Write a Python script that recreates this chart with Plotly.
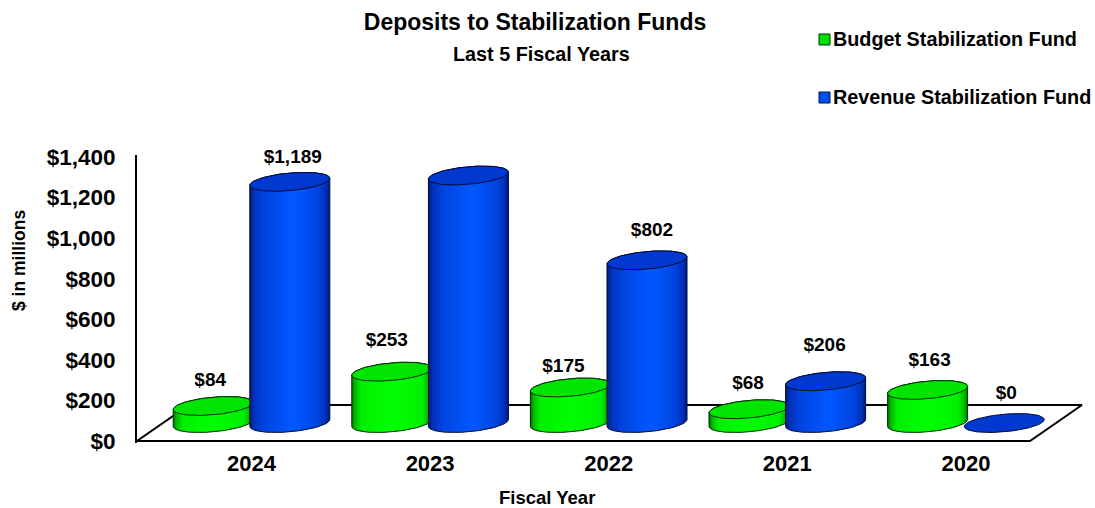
import numpy as np
import plotly.graph_objects as go

years = ["2024", "2023", "2022", "2021", "2020"]
budget = [84, 253, 175, 68, 163]
revenue = [1189, 1220, 802, 206, 0]
y_ticks = [0, 200, 400, 600, 800, 1000, 1200, 1400]
y_labels = ["$0", "$200", "$400", "$600", "$800", "$1,000", "$1,200", "$1,400"]

W, H = 1095, 508
L, R, T, B = 137, 1090, 155, 443      # plot area in pixels
FLOOR_R, FLOOR_B = 1030, 441          # front edge of the floor
PX_X = (FLOOR_R - L) / 5
PX_Y = (FLOOR_B - T) / 1410
XMIN = -(251.5 - L) / PX_X
XMAX = XMIN + (R - L) / PX_X
YMIN = -(B - FLOOR_B) / PX_Y
YMAX = 1410

# pixel offsets of the hand-placed value labels (dx, dy from each cap centre)
budget_dx = [-3, -5, -7, -1, 2]
budget_dy = [-25, -30, -20, -25, -29]
revenue_dx = [3, -3, 5, -1, 2]
revenue_dy = [-24, -28, -29, -35, -29]

SERIES_DX = 38.3   # half distance between the two cylinders of a group
RX, RY, SKEW = 40, 8.8, 3.5
BASE_PX = 18       # floor depth of cylinder base
DEPTH_X, DEPTH_Y = 52, 36

GREEN = dict(scale=[[0, "#007000"], [0.04, "#00b800"], [0.12, "#00f000"], [0.5, "#00ff00"],
                    [0.88, "#00f000"], [0.96, "#00b800"], [1, "#007000"]],
             cap="#00e400", edge="#002a00")
BLUE = dict(scale=[[0, "#001a78"], [0.05, "#0030b8"], [0.18, "#0044e0"], [0.55, "#0058ff"],
                   [0.85, "#0044e0"], [0.95, "#0030b8"], [1, "#001a78"]],
            cap="#0038d0", edge="#000c30")


def xy(cx, v, dx_px, dy_px):
    """pixel offsets relative to (category cx, value v) into data coordinates"""
    return cx + np.asarray(dx_px) / PX_X, v + BASE_PX / PX_Y - np.asarray(dy_px) / PX_Y


def arc(cx, v, t):
    return xy(cx, v, RX * np.cos(t), RY * np.sin(t) - SKEW * np.cos(t))


def cylinder(cx, v, st):
    out = []
    front = np.linspace(np.pi, 0, 50)          # lower half of the base
    back = np.linspace(0, -np.pi, 50)          # back half of the cap
    x0, y0 = arc(cx, 0, front)
    x1, y1 = arc(cx, v, back)
    if v > 0:
        out.append(go.Scatter(x=np.r_[x0, x1, x0[0]], y=np.r_[y0, y1, y0[0]], mode="lines",
                              fill="toself", fillgradient=dict(type="horizontal", colorscale=st["scale"]),
                              line=dict(color=st["edge"], width=1), showlegend=False,
                              hoverinfo="skip"))
    t = np.linspace(0, 2 * np.pi, 100)
    x2, y2 = arc(cx, v, t)
    out.append(go.Scatter(x=x2, y=y2, mode="lines", fill="toself", fillcolor=st["cap"],
                          line=dict(color=st["edge"], width=1), showlegend=False,
                          hoverinfo="skip"))
    return out


fig = go.Figure()

# floor outline
fx = [XMIN, XMIN + DEPTH_X / PX_X, XMIN + 5 + DEPTH_X / PX_X, XMIN + 5, XMIN]
fy = [0, DEPTH_Y / PX_Y, DEPTH_Y / PX_Y, 0, 0]
fig.add_trace(go.Scatter(x=fx, y=fy, mode="lines", line=dict(color="black", width=2),
                         showlegend=False, hoverinfo="skip"))

for i in range(len(years)):
    for tr in cylinder(i - SERIES_DX / PX_X, budget[i], GREEN):
        fig.add_trace(tr)
    for tr in cylinder(i + SERIES_DX / PX_X, revenue[i], BLUE):
        fig.add_trace(tr)

for vals, sgn, dxs, dys, name in [(budget, -1, budget_dx, budget_dy, "Budget Stabilization Fund"),
                                  (revenue, 1, revenue_dx, revenue_dy, "Revenue Stabilization Fund")]:
    lx, ly = [], []
    for i, v in enumerate(vals):
        a, b = xy(i + sgn * SERIES_DX / PX_X, v, dxs[i], dys[i])
        lx.append(float(a)); ly.append(float(b))
    fig.add_trace(go.Scatter(x=lx, y=ly, mode="text", text=[f"${v:,}" for v in vals],
                             textposition="middle center", name=name, showlegend=False,
                             textfont=dict(family="Liberation Sans", size=19, color="black"),
                             texttemplate="<b>%{text}</b>", cliponaxis=False))


def px(x):
    return (x - L) / (R - L)


def py(y):
    return (B - y) / (B - T)


def label(text, x, y, size, angle=0, anchor="center"):
    return dict(text=f"<b>{text}</b>", x=px(x), y=py(y), xref="paper", yref="paper", showarrow=False,
                xanchor=anchor, yanchor="middle", textangle=angle, borderpad=0,
                font=dict(family="Liberation Sans", size=size, color="black"))


annotations = [
    label("Last 5 Fiscal Years", 541, 54, 19.8),
    label("Budget Stabilization Fund", 832, 39, 19.8, anchor="left"),
    label("Revenue Stabilization Fund", 832, 97, 19.8, anchor="left"),
    label("$ in millions", 19, 261, 17.5, angle=-90),
    label("Fiscal Year", 547, 497, 18.5),
]
shapes = [
    dict(type="rect", xref="paper", yref="paper", x0=px(819), x1=px(830), y0=py(34), y1=py(45),
         fillcolor="#00e000", line=dict(color="#003300", width=1)),
    dict(type="rect", xref="paper", yref="paper", x0=px(819), x1=px(830), y0=py(92), y1=py(103),
         fillcolor="#0050f0", line=dict(color="#001040", width=1)),
]

fig.update_layout(
    width=W, height=H, autosize=False,
    margin=dict(l=L, r=W - R, t=T, b=H - B, pad=0),
    paper_bgcolor="white", plot_bgcolor="white", showlegend=False,
    title=dict(text="<b>Deposits to Stabilization Funds</b>", x=535 / W, y=1 - 22 / H,
               xanchor="center", yanchor="middle", xref="container",
               font=dict(family="Liberation Sans", size=23, color="black")),
    annotations=annotations, shapes=shapes,
    xaxis=dict(range=[XMIN, XMAX], tickmode="array", tickvals=list(range(5)), ticktext=[f"<b>{y}</b>" for y in years],
               showgrid=False, zeroline=False, showline=False,
               ticks="", ticklabelstandoff=5, tickangle=0,
               tickfont=dict(family="Liberation Sans", size=22, color="black")),
    yaxis=dict(range=[YMIN, YMAX], tickmode="array", tickvals=y_ticks, ticktext=[f"<b>{s}</b>" for s in y_labels],
               showgrid=False, zeroline=False, showline=True, linecolor="black", linewidth=2,
               ticks="", ticklabelstandoff=15,
               tickfont=dict(family="Liberation Sans", size=22.5, color="black")),
)

fig.write_html("out.html", post_script="document.body.style.margin='0';",
               config=dict(displayModeBar=False))
